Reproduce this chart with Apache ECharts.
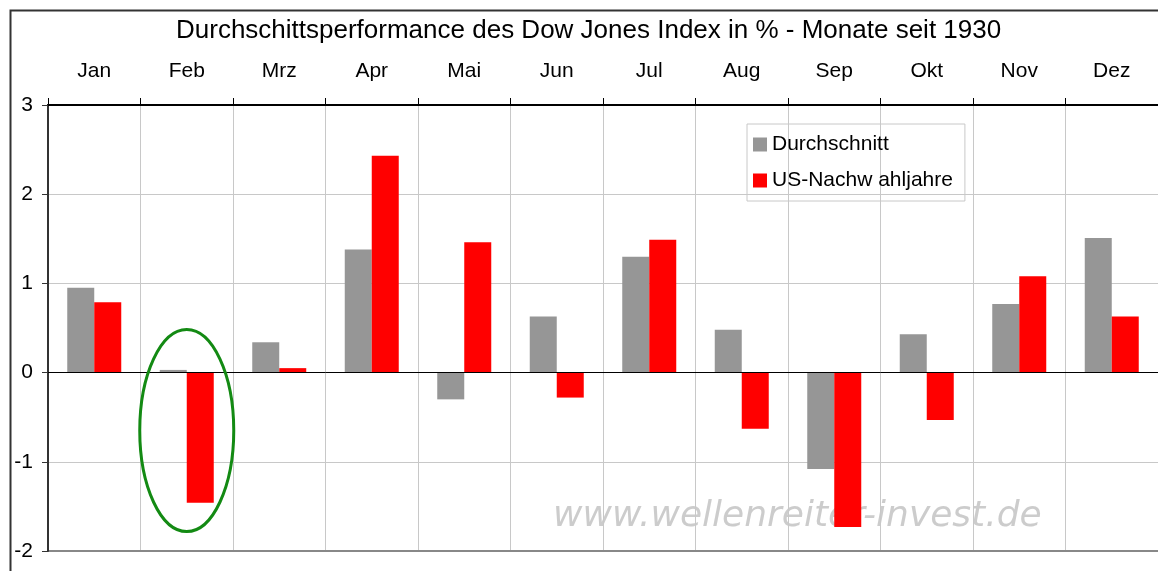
<!DOCTYPE html>
<html>
<head>
<meta charset="utf-8">
<script src="https://cdn.jsdelivr.net/npm/echarts@6/dist/echarts.min.js"></script>
<style>
  html, body { margin: 0; padding: 0; background: #fff; }
  #chart { width: 1158px; height: 571px; }
</style>
</head>
<body>
<div id="chart"></div>
<script>
// Monate
const months = ['Jan', 'Feb', 'Mrz', 'Apr', 'Mai', 'Jun', 'Jul', 'Aug', 'Sep', 'Okt', 'Nov', 'Dez'];
// Durchschnitt seit 1930
const avgData = [0.95, 0.03, 0.34, 1.38, -0.30, 0.63, 1.30, 0.48, -1.08, 0.43, 0.77, 1.51];
// US-Nachwahljahre
const postElectionData = [0.79, -1.46, 0.05, 2.43, 1.46, -0.28, 1.49, -0.63, -1.73, -0.53, 1.08, 0.63];
const yTicks = [-2, -1, 0, 1, 2, 3];

const chart = echarts.init(document.getElementById('chart'));

const option = {
    animation: false,
    textStyle: { fontFamily: 'Liberation Sans, Arial, sans-serif' },
    title: {
        text: 'Durchschittsperformance des Dow Jones Index in % - Monate seit 1930',
        left: 176,
        top: 18,
        padding: 0,
        textStyle: { fontSize: 26, fontWeight: 'normal', color: '#000' }
    },
    legend: {
        orient: 'vertical',
        left: 747,
        top: 124,
        padding: [10, 12, 10, 6],
        itemGap: 15,
        itemWidth: 14,
        itemHeight: 14,
        borderColor: '#c8c8c8',
        borderWidth: 1,
        icon: 'rect',
        textStyle: { fontSize: 21, color: '#000' }
    },
    grid: {
        left: 48,
        right: -2,
        top: 105,
        bottom: 20
    },
    xAxis: {
        type: 'category',
        position: 'top',
        data: months,
        axisLine: { show: true, onZero: false, lineStyle: { color: '#000', width: 2 } },
        axisTick: { show: true, inside: false, length: 7, lineStyle: { color: '#000' } },
        axisLabel: { fontSize: 21, color: '#000', margin: 23 },
        splitLine: { show: true, lineStyle: { color: '#c8c8c8', width: 1 } }
    },
    yAxis: {
        type: 'value',
        min: yTicks[0],
        max: yTicks[yTicks.length - 1],
        interval: 1,
        axisLine: { show: true, lineStyle: { color: '#333', width: 2 } },
        axisTick: { show: true, length: 6, lineStyle: { color: '#333' } },
        axisLabel: { fontSize: 21, color: '#000', margin: 15 },
        splitLine: { show: true, lineStyle: { color: '#c8c8c8', width: 1 } }
    },
    series: [
        {
            name: 'Durchschnitt',
            type: 'bar',
            data: avgData,
            barWidth: 27,
            barGap: '0%',
            itemStyle: { color: '#969696' },
            markLine: {
                silent: true,
                symbol: 'none',
                label: { show: false },
                lineStyle: { color: '#000', width: 1, type: 'solid' },
                data: [{ yAxis: 0 }]
            }
        },
        {
            name: 'US-Nachw ahljahre',
            type: 'bar',
            data: postElectionData,
            barWidth: 27,
            itemStyle: { color: '#ff0000' }
        }
    ]
};

chart.setOption(option);

// Hinweis-Ellipse um Feb, Rahmen und Wasserzeichen
const c = chart.convertToPixel({ xAxisIndex: 0, yAxisIndex: 0 }, ['Feb', -0.65]);
const bottomY = chart.convertToPixel({ yAxisIndex: 0 }, yTicks[0]);
chart.setOption({
    graphic: [
        {
            type: 'rect',
            left: 8, top: 8,
            shape: { width: 1170, height: 580 },
            style: { fill: 'none', stroke: '#333', lineWidth: 2 },
            silent: true
        },
        {
            type: 'line',
            shape: { x1: 48, y1: bottomY, x2: 1158, y2: bottomY },
            style: { stroke: '#888', lineWidth: 2 },
            silent: true
        },
        {
            type: 'ellipse',
            shape: { cx: c[0], cy: c[1], rx: 47, ry: 101 },
            style: { fill: 'none', stroke: '#138a13', lineWidth: 3 },
            z: 10,
            silent: true
        },
        {
            type: 'text',
            left: 553,
            top: 499,
            style: {
                text: 'www.wellenreiter-invest.de',
                font: 'italic 36px "DejaVu Sans", sans-serif',
                fill: 'rgba(170,170,170,0.6)'
            },
            z: -10,
            silent: true
        }
    ]
});
</script>
</body>
</html>
